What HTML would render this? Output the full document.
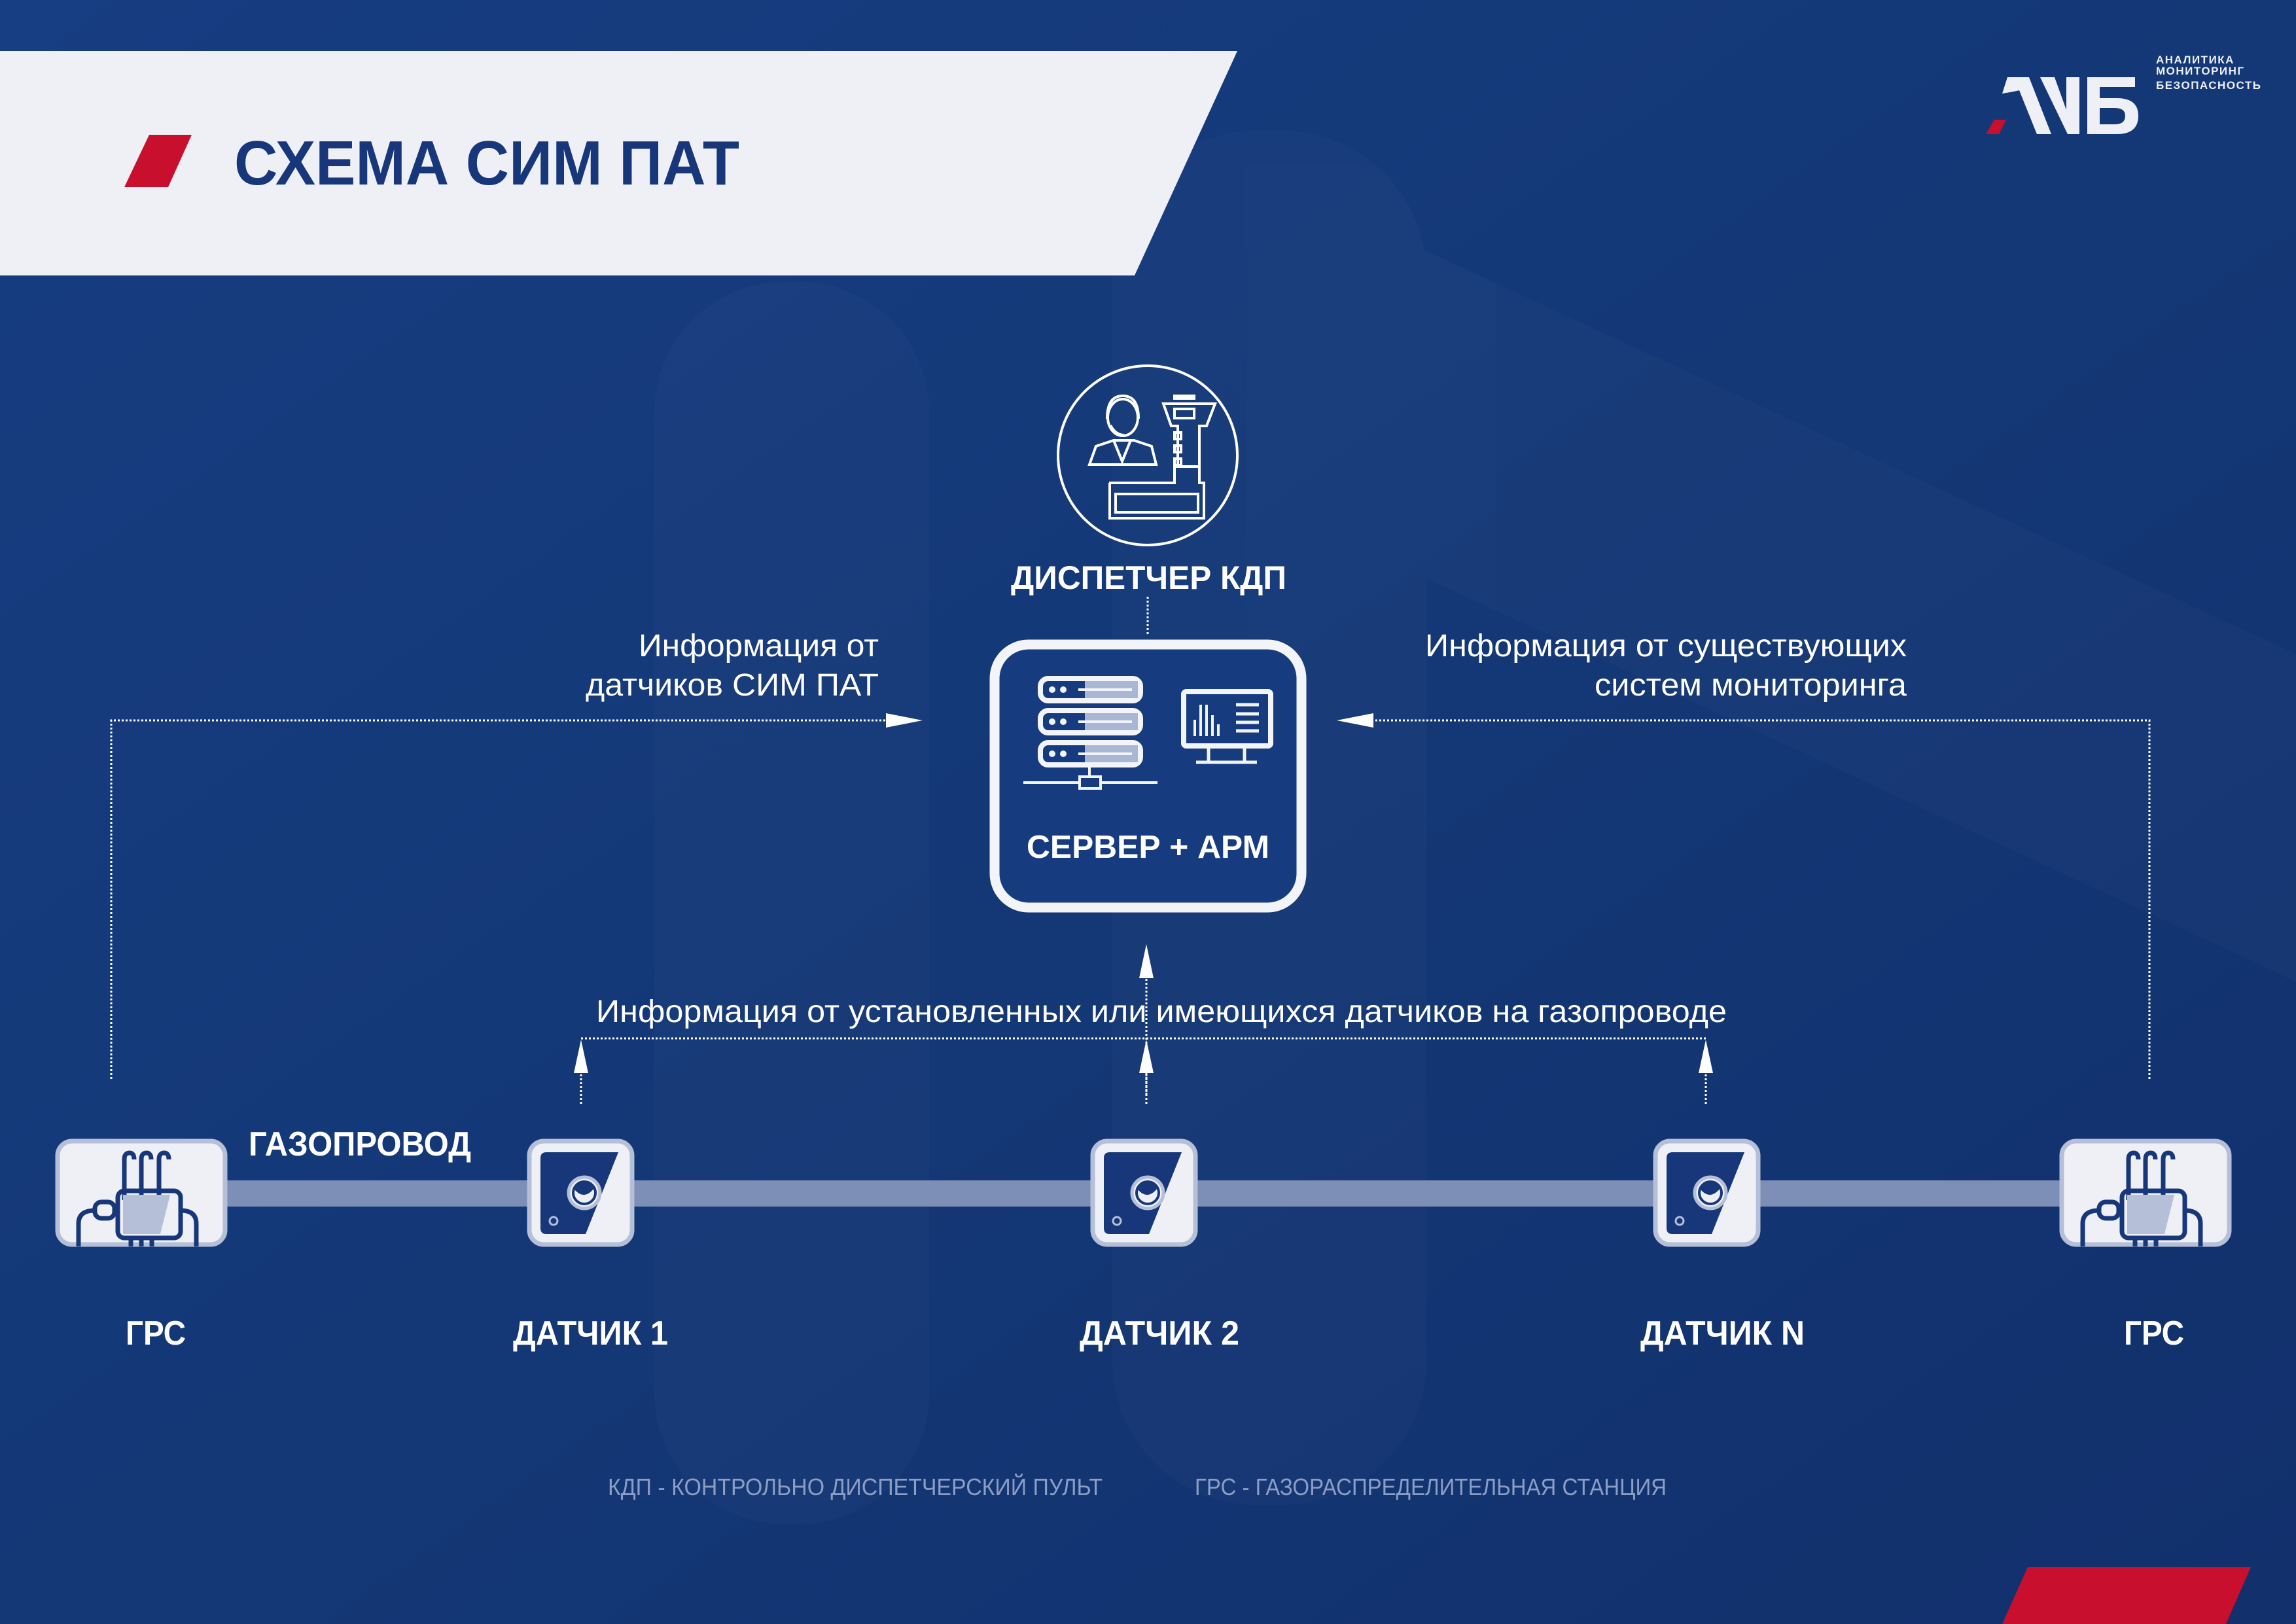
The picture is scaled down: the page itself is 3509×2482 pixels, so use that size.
<!DOCTYPE html>
<html><head><meta charset="utf-8"><style>
html,body{margin:0;padding:0;width:3509px;height:2482px;overflow:hidden;background:#143877}
svg{display:block}
text{font-family:"Liberation Sans",sans-serif}
.n{font-family:"Liberation Sans Narrow","Liberation Sans",sans-serif}
</style></head><body>
<svg width="3509" height="2482" viewBox="0 0 3509 2482" xmlns="http://www.w3.org/2000/svg">
<defs>
<linearGradient id="bg" x1="0" y1="0" x2="1" y2="1">
<stop offset="0" stop-color="#173d82"/><stop offset="0.5" stop-color="#143876"/><stop offset="1" stop-color="#11306c"/>
</linearGradient>
</defs>
<rect width="3509" height="2482" fill="url(#bg)"/>
<g fill="#ffffff" opacity="0.018">
<rect x="1000" y="430" width="420" height="1900" rx="200"/>
<rect x="1700" y="200" width="480" height="2100" rx="220"/>
<path d="M2000,300 L3509,1000 L3509,1500 L2000,800 Z"/>
</g>

<!-- Title banner -->
<polygon points="0,78 1891,78 1734,421 0,421" fill="#eef0f5"/>
<polygon points="228,206 293,206 257,286 190,286" fill="#c8102e"/>
<text x="358" y="282" font-size="96" font-weight="700" fill="#17377a" textLength="772" lengthAdjust="spacingAndGlyphs">СХЕМА СИМ ПАТ</text>

<!-- Logo -->
<polygon points="3048,183 3066,183 3055,205 3035,205" fill="#c8102e"/>
<path d="M3068,118 L3101,118 L3135,205 L3113,205 L3086,138 Q3078,140 3060,143 Z" fill="#eef0f5"/>
<path d="M3118,118 L3140,118 L3158,168 L3158,118 L3178,118 L3178,205 L3160,205 Z" fill="#eef0f5"/>
<path d="M3190,118 L3263,118 L3263,133 L3209,133 L3209,150 L3235,150 Q3268,150 3268,177 Q3268,205 3235,205 L3190,205 Z M3209,165 L3209,190 L3232,190 Q3248,190 3248,177 Q3248,165 3232,165 Z" fill="#eef0f5" fill-rule="evenodd"/>
<g fill="#eef0f5" font-size="17" font-weight="700" letter-spacing="1.5">
<text x="3295" y="97">АНАЛИТИКА</text><text x="3295" y="114">МОНИТОРИНГ</text><text x="3295" y="136">БЕЗОПАСНОСТЬ</text></g>

<!-- Dispatcher circle -->
<circle cx="1754" cy="696" r="137" fill="none" stroke="#fff" stroke-width="4"/>
<g fill="none" stroke="#fff" stroke-width="4">
<path d="M1665,710 L1675,682 L1702,673 L1733,673 L1760,682 L1767,710 Z"/>
<path d="M1702,673 L1715,705 L1728,673"/>
<ellipse cx="1716" cy="638" rx="23" ry="28"/>
<path d="M1692,640 Q1692,605 1716,605 Q1740,605 1740,640"/>
<path d="M1697,650 Q1705,665 1718,665"/>
<path d="M1695,738 L1795,738 L1795,713 L1833,713 L1833,651 L1844,651 L1857,617 L1778,617 L1790,651 L1800,651 L1800,713"/>
<path d="M1696,738 L1696,792 L1840,792 L1840,738 L1833,738 L1833,713"/>
<rect x="1705" y="755" width="126" height="28"/>
<rect x="1795" y="605" width="30" height="4"/>
<rect x="1795" y="625" width="30" height="14"/>
<rect x="1795" y="661" width="10" height="10"/><rect x="1795" y="681" width="10" height="10"/><rect x="1795" y="701" width="10" height="10"/>
</g>
<text x="1545" y="900" font-size="50" font-weight="700" fill="#fff" textLength="421" lengthAdjust="spacingAndGlyphs">ДИСПЕТЧЕР КДП</text>
<line x1="1754" y1="912" x2="1754" y2="970" stroke="#fff" stroke-width="3" stroke-dasharray="3,3"/>

<!-- Server box -->
<rect x="1520" y="985" width="469" height="402" rx="52" fill="#163b7f" stroke="#f2f4f8" stroke-width="15"/>
<g>
<g fill="none" stroke="#f2f4f8" stroke-width="8">
<rect x="1590" y="1037" width="153" height="34" rx="12"/>
<rect x="1590" y="1086" width="153" height="34" rx="12"/>
<rect x="1590" y="1135" width="153" height="34" rx="12"/>
</g>
<g fill="#a9b6d4"><rect x="1658" y="1041" width="81" height="26"/><rect x="1658" y="1090" width="81" height="26"/><rect x="1658" y="1139" width="81" height="26"/></g>
<g fill="#f2f4f8">
<circle cx="1608" cy="1054" r="5"/><circle cx="1625" cy="1054" r="5"/>
<circle cx="1608" cy="1103" r="5"/><circle cx="1625" cy="1103" r="5"/>
<circle cx="1608" cy="1152" r="5"/><circle cx="1625" cy="1152" r="5"/>
<rect x="1648" y="1052" width="82" height="4"/><rect x="1648" y="1101" width="82" height="4"/><rect x="1648" y="1150" width="82" height="4"/>
</g>
<g stroke="#f2f4f8" stroke-width="4" fill="none">
<line x1="1665" y1="1169" x2="1665" y2="1187"/>
<line x1="1564" y1="1196" x2="1769" y2="1196"/>
<rect x="1650" y="1187" width="32" height="18" fill="#163b7f"/>
</g>
<g stroke="#f2f4f8" fill="none">
<rect x="1809" y="1057" width="133" height="83" rx="4" stroke-width="8"/>
<line x1="1847" y1="1144" x2="1847" y2="1163" stroke-width="5"/><line x1="1902" y1="1144" x2="1902" y2="1163" stroke-width="5"/>
<line x1="1828" y1="1165" x2="1921" y2="1165" stroke-width="5"/>
<g stroke-width="4"><line x1="1826" y1="1125" x2="1826" y2="1100"/><line x1="1835" y1="1125" x2="1835" y2="1077"/><line x1="1844" y1="1125" x2="1844" y2="1077"/><line x1="1853" y1="1125" x2="1853" y2="1093"/><line x1="1862" y1="1125" x2="1862" y2="1107"/></g>
<g stroke-width="5"><line x1="1889" y1="1077" x2="1924" y2="1077"/><line x1="1889" y1="1091" x2="1924" y2="1091"/><line x1="1889" y1="1104" x2="1924" y2="1104"/><line x1="1889" y1="1117" x2="1924" y2="1117"/></g>
</g>
</g>
<text x="1569" y="1311" font-size="49" font-weight="700" fill="#fff" textLength="371" lengthAdjust="spacingAndGlyphs">СЕРВЕР + АРМ</text>

<!-- Side labels -->
<g fill="#fff" font-size="48">
<text x="976" y="1003" textLength="367" lengthAdjust="spacingAndGlyphs">Информация от</text>
<text x="895" y="1063" textLength="448" lengthAdjust="spacingAndGlyphs">датчиков СИМ ПАТ</text>
<text x="2178" y="1003" textLength="736" lengthAdjust="spacingAndGlyphs">Информация от существующих</text>
<text x="2437" y="1063" textLength="477" lengthAdjust="spacingAndGlyphs">систем мониторинга</text>
<text x="911" y="1562" textLength="1728" lengthAdjust="spacingAndGlyphs">Информация от установленных или имеющихся датчиков на газопроводе</text>
</g>

<!-- Connectors -->
<g stroke="#fff" stroke-width="3" stroke-dasharray="3,3" fill="none">
<path d="M170,1649 L170,1101 L1360,1101"/>
<path d="M3285,1649 L3285,1101 L2097,1101"/>
<line x1="1752" y1="1490" x2="1752" y2="1674"/>
<line x1="888" y1="1587" x2="2607" y2="1587"/>
<line x1="888" y1="1630" x2="888" y2="1690"/>
<line x1="1752" y1="1630" x2="1752" y2="1690"/>
<line x1="2607" y1="1630" x2="2607" y2="1690"/>
</g>
<g fill="#fff">
<polygon points="1410,1101 1354,1090 1354,1112"/>
<polygon points="2043,1101 2099,1090 2099,1112"/>
<polygon points="1752,1443 1741,1495 1763,1495"/>
<polygon points="888,1589 877,1640 899,1640"/>
<polygon points="1752,1589 1741,1640 1763,1640"/>
<polygon points="2607,1589 2596,1640 2618,1640"/>
</g>

<!-- Pipe -->
<rect x="340" y="1804" width="2820" height="40" fill="#7d8fb6"/>

<!-- GRS nodes -->
<g id="grs">
<rect x="88" y="1744" width="256" height="158" rx="22" fill="#eef0f6" stroke="#b5bfd8" stroke-width="7"/>
<g fill="none" stroke="#17377a" stroke-width="7">
<path d="M190,1834 L190,1772 Q190,1762 198,1762 Q205,1762 205,1772"/>
<path d="M216,1834 L216,1772 Q216,1762 224,1762 Q231,1762 231,1772"/>
<path d="M243,1834 L243,1772 Q243,1762 251,1762 Q258,1762 258,1772"/>
<rect x="180" y="1820" width="96" height="72" rx="10"/>
<rect x="145" y="1837" width="30" height="25" rx="10"/>
<path d="M145,1850 Q120,1850 120,1870 L120,1905"/>
<path d="M276,1850 Q300,1850 300,1870 L300,1905"/>
<path d="M200,1892 L200,1905 M216,1892 L216,1905 M232,1892 L232,1905"/>
</g>
<path d="M188,1826 L260,1826 L245,1886 L188,1886 Z" fill="#b5bfd8"/>
</g>
<use href="#grs" x="3063"/>

<!-- Sensor nodes -->
<g id="sen">
<rect x="809" y="1744" width="157" height="158" rx="22" fill="#eef0f6" stroke="#b5bfd8" stroke-width="7"/>
<path d="M835,1761 L945,1761 L895,1886 L835,1886 Q826,1886 826,1877 L826,1770 Q826,1761 835,1761 Z" fill="#17377a"/>
<circle cx="893" cy="1823" r="24" fill="#eef0f6" stroke="#b5bfd8" stroke-width="5"/>
<circle cx="893" cy="1823" r="17" fill="none" stroke="#17377a" stroke-width="4"/>
<path d="M878,1818 Q893,1835 908,1816 Q908,1806 893,1806 Q878,1806 878,1818 Z" fill="#17377a"/>
<circle cx="846" cy="1866" r="6" fill="none" stroke="#b5bfd8" stroke-width="3"/>
</g>
<use href="#sen" x="861"/>
<use href="#sen" x="1721"/>

<!-- Labels -->
<g fill="#fff" font-size="52" font-weight="700">
<text class="n" x="380" y="1766" textLength="340" lengthAdjust="spacingAndGlyphs">ГАЗОПРОВОД</text>
<text class="n" x="192" y="2055" textLength="92" lengthAdjust="spacingAndGlyphs">ГРС</text>
<text class="n" x="784" y="2055" textLength="237" lengthAdjust="spacingAndGlyphs">ДАТЧИК 1</text>
<text class="n" x="1650" y="2055" textLength="244" lengthAdjust="spacingAndGlyphs">ДАТЧИК 2</text>
<text class="n" x="2507" y="2055" textLength="251" lengthAdjust="spacingAndGlyphs">ДАТЧИК N</text>
<text class="n" x="3246" y="2055" textLength="92" lengthAdjust="spacingAndGlyphs">ГРС</text>
</g>
<g fill="#8c9dc6" font-size="36">
<text class="n" x="929" y="2285" textLength="756" lengthAdjust="spacingAndGlyphs">КДП - КОНТРОЛЬНО ДИСПЕТЧЕРСКИЙ ПУЛЬТ</text>
<text class="n" x="1826" y="2285" textLength="721" lengthAdjust="spacingAndGlyphs">ГРС - ГАЗОРАСПРЕДЕЛИТЕЛЬНАЯ СТАНЦИЯ</text>
</g>

<polygon points="3099,2395 3440,2395 3402,2482 3060,2482" fill="#c8102e"/>
</svg>
</body></html>
